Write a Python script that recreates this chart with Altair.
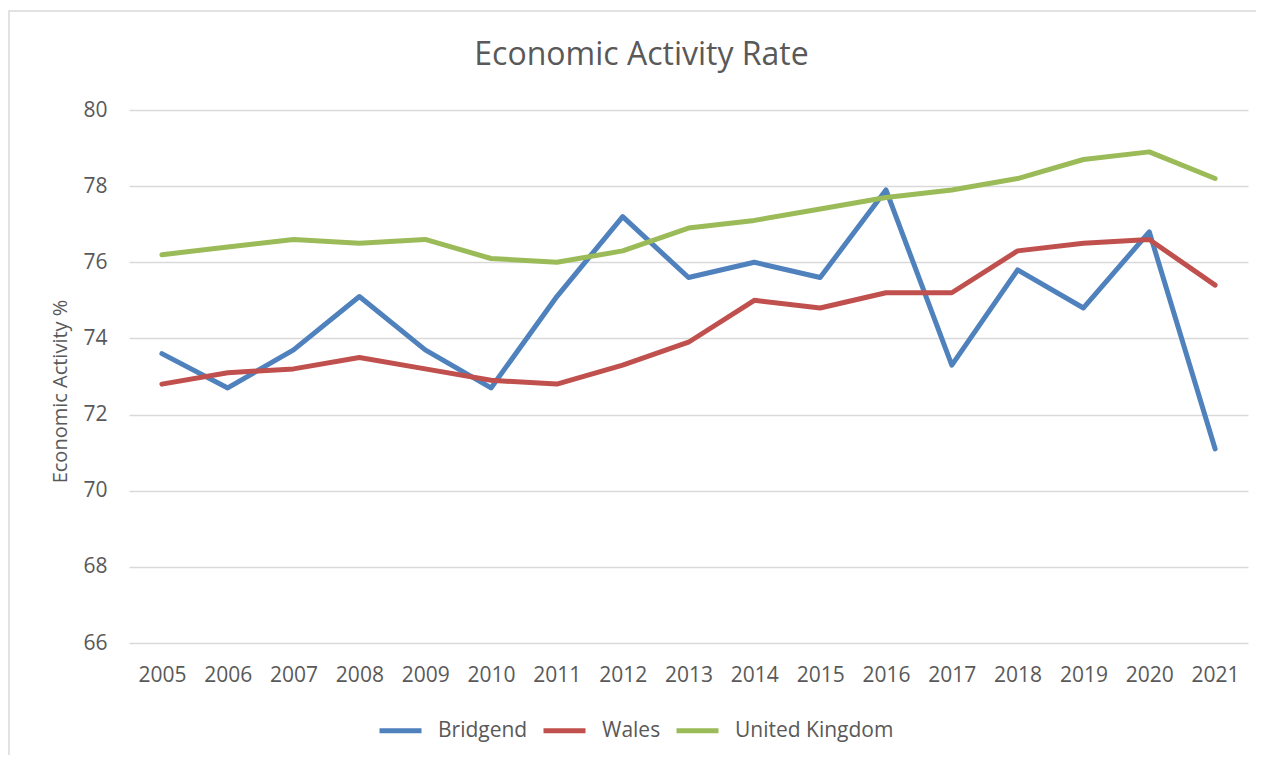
import altair as alt
import pandas as pd

years = [str(y) for y in range(2005, 2022)]
bridgend = [73.6, 72.7, 73.7, 75.1, 73.7, 72.7, 75.1, 77.2, 75.6, 76.0, 75.6, 77.9, 73.3, 75.8, 74.8, 76.8, 71.1]
wales = [72.8, 73.1, 73.2, 73.5, 73.2, 72.9, 72.8, 73.3, 73.9, 75.0, 74.8, 75.2, 75.2, 76.3, 76.5, 76.6, 75.4]
uk = [76.2, 76.4, 76.6, 76.5, 76.6, 76.1, 76.0, 76.3, 76.9, 77.1, 77.4, 77.7, 77.9, 78.2, 78.7, 78.9, 78.2]
series_names = ["Bridgend", "Wales", "United Kingdom"]
series_colors = ["#4F81BD", "#C0504D", "#9BBB59"]
y_ticks = [66, 68, 70, 72, 74, 76, 78, 80]

rows = []
for name, vals in zip(series_names, [bridgend, wales, uk]):
    for yr, v in zip(years, vals):
        rows.append({"Year": yr, "Value": v, "Series": name})
df = pd.DataFrame(rows)

FONT = "Open Sans"
TXT = "#595959"

frame = alt.Chart(pd.DataFrame({"a": [0]})).mark_rect(
    fillOpacity=0, stroke="#D9D9D9", strokeWidth=1.5
).encode(
    x=alt.value(-120), x2=alt.value(1400),
    y=alt.value(-99), y2=alt.value(900)
)

lines = alt.Chart(df).mark_line(strokeWidth=5, strokeCap="round", strokeJoin="round").encode(
    x=alt.X("Year:O", sort=years,
            scale=alt.Scale(type="point", padding=0.5),
            axis=alt.Axis(title=None, labelAngle=0, ticks=False, domain=False,
                          labelPadding=21, labelFontSize=21, labelColor=TXT, labelFont=FONT)),
    y=alt.Y("Value:Q", scale=alt.Scale(domain=[66, 80], nice=False, zero=False),
            axis=alt.Axis(title="Economic Activity %", values=y_ticks, ticks=False, domain=False,
                          grid=True, gridColor="#D9D9D9", gridWidth=1.5,
                          labelPadding=22, labelFontSize=21, labelColor=TXT, labelFont=FONT,
                          titleFontSize=20, titleFont=FONT, titleColor=TXT, titleFontWeight="normal",
                          titlePadding=12, titleY=281)),
    color=alt.Color("Series:N", sort=series_names,
                    scale=alt.Scale(domain=series_names, range=series_colors),
                    legend=alt.Legend(title=None, orient="none", legendX=248, legendY=597,
                                      direction="horizontal", symbolType="stroke",
                                      symbolSize=1764, symbolStrokeWidth=5,
                                      labelFontSize=21, labelFont=FONT, labelColor=TXT,
                                      labelOffset=14, columnPadding=5)),
    order=alt.Order("Year:O")
)

chart = alt.layer(frame, lines).properties(
    width=1119, height=533,
    title=alt.TitleParams("Economic Activity Rate", fontSize=32, font=FONT, color=TXT,
                          fontWeight="normal", anchor="middle", frame="group",
                          dx=-47, offset=-62),
    autosize=alt.AutoSizeParams(type="none"),
    padding={"left": 121, "top": 102, "right": 8, "bottom": 112},
).configure_view(stroke=None)

chart.save("out.html", embed_options={"renderer": "svg", "actions": False})
